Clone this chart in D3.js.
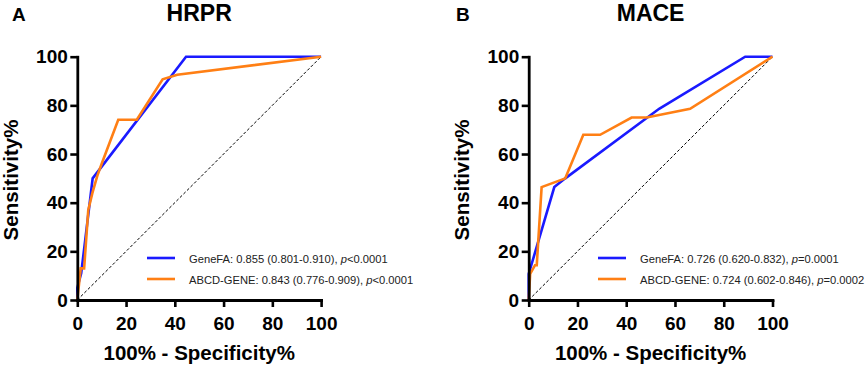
<!DOCTYPE html>
<html>
<head>
<meta charset="utf-8">
<script src="https://cdn.jsdelivr.net/npm/d3@7"></script>
<style>
  body { margin: 0; background: #fff; }
  text { font-family: "Liberation Sans", Arial, sans-serif; }
</style>
</head>
<body>
<svg id="chart" width="865" height="367"></svg>
<script>
// ROC points: 100% - specificity (x) and sensitivity (y)
var hrprGeneFAx = [0, 0, 1.6, 6.3, 44.6, 100];
var hrprGeneFAy = [0, 5, 11, 50, 100, 100];
var hrprAbcdx = [0, 1.4, 2.8, 4.5, 6.2, 8.2, 10, 16.8, 24.4, 35, 41, 100];
var hrprAbcdy = [0, 13, 13, 37, 44, 51, 56, 74.1, 74.1, 90.7, 92.6, 100];

var maceGeneFAx = [0, 0, 10.5, 15, 53.5, 88.8, 100];
var maceGeneFAy = [0, 10.7, 46.4, 50, 78.6, 100, 100];
var maceAbcdx = [0, 0.6, 2.6, 3.3, 5.3, 15, 22.4, 29.3, 42.2, 48.4, 66.2, 100];
var maceAbcdy = [0, 10.7, 14.3, 14.3, 46.4, 50, 67.9, 67.9, 75, 75, 78.6, 100];

var axisTicks = [0, 20, 40, 60, 80, 100];
var panelLetters = ["A", "B"];
var panelTitles = ["HRPR", "MACE"];
var seriesNames = ["GeneFA", "ABCD-GENE"];
var hrprLegend = ["0.855 (0.801-0.910), ", "0.843 (0.776-0.909), "];
var hrprP = ["<0.0001", "<0.0001"];
var maceLegend = ["0.726 (0.620-0.832), ", "0.724 (0.602-0.846), "];
var maceP = ["=0.0001", "=0.0002"];

var colors = ["#1a1aff", "#ff7f14"];

var svg = d3.select("#chart");
svg.append("rect").attr("width", 865).attr("height", 367).attr("fill", "#fff");

function zip(xs, ys) {
    return xs.map(function(x, i) { return [x, ys[i]]; });
}

function drawPanel(cfg) {
    var x = d3.scaleLinear().domain([0, 100]).range([cfg.left, cfg.left + 243.8]);
    var y = d3.scaleLinear().domain([0, 100]).range([300, 56.7]);
    var g = svg.append("g");

    // chance line
    g.append("line")
        .attr("x1", x(0)).attr("y1", y(0))
        .attr("x2", x(100)).attr("y2", y(100))
        .attr("stroke", "#000").attr("stroke-width", 1)
        .attr("stroke-dasharray", "3,2");

    var line = d3.line()
        .x(function(d) { return x(d[0]); })
        .y(function(d) { return y(d[1]); });

    cfg.series.forEach(function(s, i) {
        g.append("path")
            .datum(s)
            .attr("d", line)
            .attr("fill", "none")
            .attr("stroke", colors[i])
            .attr("stroke-width", 2.6)
            .attr("stroke-linejoin", "miter");
    });

    var xAxis = g.append("g")
        .attr("transform", "translate(0," + y(0) + ")")
        .call(d3.axisBottom(x).tickValues(axisTicks).tickSize(7).tickSizeOuter(0).tickPadding(9.5));
    var yAxis = g.append("g")
        .attr("transform", "translate(" + x(0) + ",0)")
        .call(d3.axisLeft(y).tickValues(axisTicks).tickSize(7).tickSizeOuter(0).tickPadding(2.5));

    [xAxis, yAxis].forEach(function(a) {
        a.select(".domain").attr("stroke", "#000").attr("stroke-width", 2.8).attr("stroke-linecap", "square");
        a.selectAll(".tick line").attr("stroke", "#000").attr("stroke-width", 2.6);
        a.selectAll(".tick text")
            .attr("fill", "#000")
            .style("font-family", "Liberation Sans, Arial, sans-serif")
            .style("font-size", "19px")
            .style("font-weight", "bold");
    });

    var cx = (x(0) + x(100)) / 2;

    // axis titles
    g.append("text")
        .attr("x", cx).attr("y", 360)
        .attr("text-anchor", "middle")
        .style("font-size", "20.5px").style("font-weight", "bold")
        .text("100% - Specificity%");
    g.append("text")
        .attr("transform", "translate(" + (cfg.left - 59.5) + "," + 180 + ") rotate(-90)")
        .attr("text-anchor", "middle")
        .style("font-size", "20.5px").style("font-weight", "bold")
        .text("Sensitivity%");

    // panel title and letter
    g.append("text")
        .attr("x", cx).attr("y", 20.5)
        .attr("text-anchor", "middle")
        .style("font-size", "23px").style("font-weight", "bold")
        .text(cfg.title);
    g.append("text")
        .attr("x", cfg.letterX).attr("y", 20.5)
        .style("font-size", "19px").style("font-weight", "bold")
        .text(cfg.letter);

    // legend
    var ly = [258, 279];
    seriesNames.forEach(function(name, i) {
        g.append("line")
            .attr("x1", cfg.legendX).attr("x2", cfg.legendX + 28)
            .attr("y1", ly[i]).attr("y2", ly[i])
            .attr("stroke", colors[i]).attr("stroke-width", 2.6);
        var t = g.append("text")
            .attr("x", cfg.legendX + 42).attr("y", ly[i] + 4.5)
            .style("font-size", "11.2px")
            .attr("fill", "#222");
        t.append("tspan").text(name + ": " + cfg.legend[i]);
        t.append("tspan").style("font-style", "italic").text("p");
        t.append("tspan").text(cfg.pval[i]);
    });
}

drawPanel({
    left: 77.3, title: panelTitles[0], letter: panelLetters[0], letterX: 12,
    series: [zip(hrprGeneFAx, hrprGeneFAy), zip(hrprAbcdx, hrprAbcdy)],
    legendX: 147, legend: hrprLegend, pval: hrprP
});
drawPanel({
    left: 528.7, title: panelTitles[1], letter: panelLetters[1], letterX: 456,
    series: [zip(maceGeneFAx, maceGeneFAy), zip(maceAbcdx, maceAbcdy)],
    legendX: 598, legend: maceLegend, pval: maceP
});
</script>
</body>
</html>
